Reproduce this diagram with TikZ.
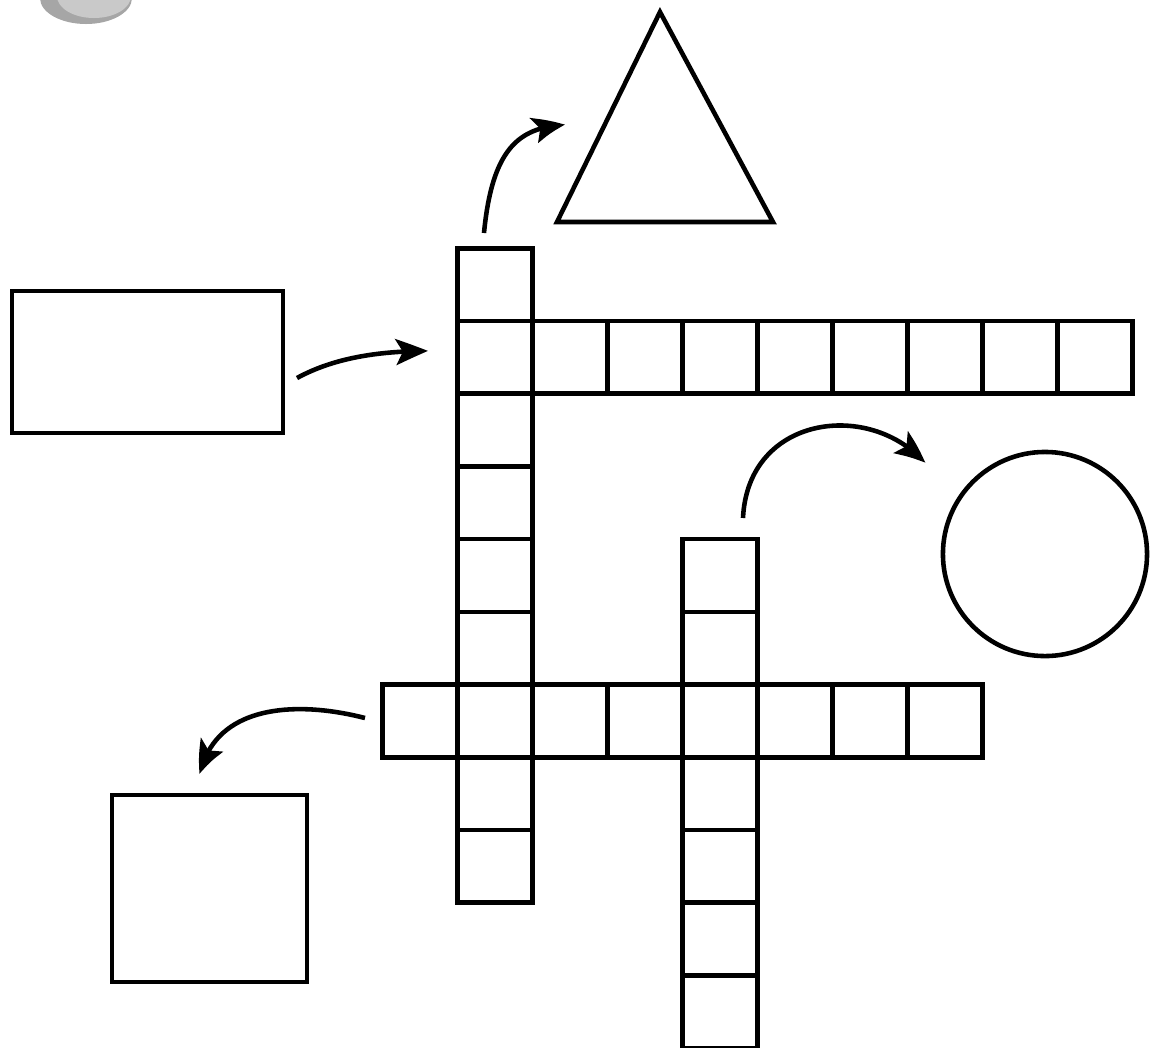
\documentclass[tikz,border=0pt]{standalone}
\usetikzlibrary{arrows.meta,bending}

\begin{document}
\begin{tikzpicture}[
      x=0.01cm,
      y=-0.01cm,
      line width=1.3pt,
      cell/.style={draw,minimum width=0.75cm,minimum height=0.727cm,
        inner sep=0pt,anchor=north west},
      figure/.style={draw,inner sep=0pt},
      hint/.style={-{Stealth[length=3.2mm,width=2.6mm,inset=0.7mm,bend]}},
      declare function = {
          cx(\i) = 455+75*\i; cy(\j) = 246+72.7*\j;
        }
    ]
    \useasboundingbox (0,0) rectangle (1150,1047);

    % badge in the corner
    \begin{scope}
      \clip (0,0) rectangle (1150,1047);
      \fill[gray!70] (86,-2) ellipse (46 and 26);
      \fill[gray!42] (94,-4) ellipse (37 and 22);
    \end{scope}

    % the word grid
    \foreach \j in {0,...,8}
      \node[cell] (a-\j) at ({cx(0)},{cy(\j)}) {};
    \foreach \i in {1,...,8}
      \node[cell] (b-\i) at ({cx(\i)},{cy(1)}) {};
    \foreach \i in {-1,...,6}
      \node[cell] (d-\i) at ({cx(\i)},{cy(6)}) {};
    \foreach \j in {4,...,10}
      \node[cell] (e-\j) at ({cx(3)},{cy(\j)}) {};

    % the shapes
    \node[figure,rectangle,minimum width=2.71cm,minimum height=1.42cm]
      (rect) at (147.5,362) {};
    \node[figure,rectangle,minimum width=1.95cm,minimum height=1.87cm]
      (square) at (209.5,888.5) {};
    \node[figure,circle,minimum size=2.04cm] (round) at (1045,554) {};
    \coordinate (t1) at (660,12);
    \coordinate (t2) at (773,222);
    \coordinate (t3) at (557,222);
    \draw[line join=miter] (t1) -- (t2) -- (t3) -- cycle;

    % arrows
    \coordinate (p1) at (484,233);
    \coordinate (q1) at (565,125);
    \coordinate (p2) at (297,378);
    \coordinate (q2) at (428,351);
    \coordinate (p3) at (743,518);
    \coordinate (q3) at (925,463);
    \coordinate (p4) at (365,718);
    \coordinate (q4) at (200,774);

    \draw[hint] (p1) .. controls (492,150) and (518,127) .. (q1);
    \draw[hint] (p2) .. controls (330,360) and (372,351) .. (q2);
    \draw[hint] (p3) .. controls (748,415) and (870,400) .. (q3);
    \draw[hint] (p4) .. controls (295,700) and (215,705) .. (q4);
  \end{tikzpicture}
\end{document}
